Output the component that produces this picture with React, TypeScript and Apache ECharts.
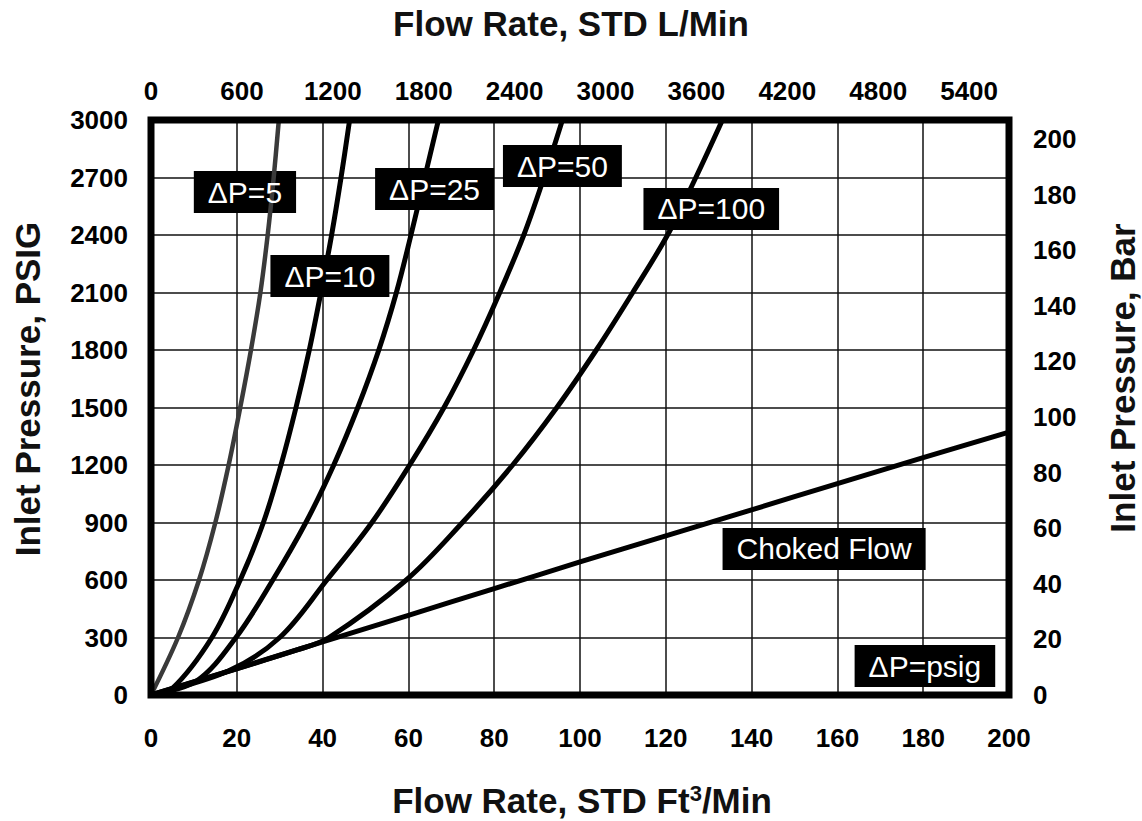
import React, { useEffect, useRef } from "react";
import * as echarts from "echarts";

// Inlet pressure levels (PSIG) used for the curve readings
const dp5P = [0, 300, 600, 900, 1200, 1500, 1800, 2100, 2400, 2700, 3000];
const dp5Q = [0, 6.3, 11.2, 15.0, 18.1, 20.8, 23.3, 25.5, 27.2, 28.6, 29.8];

const dp10P = [0, 35, 300, 600, 900, 1200, 1500, 1800, 2100, 2400, 2700, 3000];
const dp10Q = [0, 5, 14.2, 20.8, 26.2, 30.3, 33.8, 36.9, 39.6, 42.1, 44.3, 46.3];

const dp25P = [0, 73, 300, 600, 900, 1200, 1500, 1800, 2100, 2400, 2700, 3000];
const dp25Q = [0, 10.6, 19.8, 28.4, 36.1, 42.6, 48.2, 53.1, 57.2, 60.6, 63.8, 67.0];

const dp50P = [0, 125, 300, 600, 900, 1200, 1500, 1800, 2100, 2400, 2700, 3000];
const dp50Q = [0, 18, 30, 41, 51.5, 60.3, 68.3, 75.2, 81.3, 86.9, 91.6, 95.9];

const dp100P = [0, 235, 300, 600, 900, 1200, 1500, 1800, 2100, 2400, 2700, 3000];
const dp100Q = [0, 34, 41.5, 59.5, 72.6, 84.3, 94.6, 103.8, 112.3, 120.4, 127.0, 133.2];

const chokedQ = [0, 20, 40, 60, 80, 100, 120, 140, 160, 180, 200];
const chokedP = [0, 138, 277, 416, 555, 694, 830, 966, 1103, 1238, 1372];

// Curve annotations
const labelTexts = ["ΔP=5", "ΔP=10", "ΔP=25", "ΔP=50", "ΔP=100", "Choked Flow", "ΔP=psig"];
const labelQ = [21.9, 41.7, 66.1, 95.9, 130.6, 156.9, 180.4];
const labelP = [2624, 2186, 2640, 2760, 2536, 762, 151];

// Axis ranges
const ftMax = 200;
const psiMax = 3000;
const lpmPerFt3 = 28.3168;
const psiPerBar = 14.5038;

const FONT = '"Liberation Sans", Arial, Helvetica, sans-serif';

function zip(q: number[], p: number[]) {
  return q.map((v, i) => [v, p[i]]);
}

export default function App() {
  const ref = useRef<HTMLDivElement>(null);

  useEffect(() => {
    document.body.style.margin = "0";
    const chart = echarts.init(ref.current!, null, { renderer: "svg" });

    const tickLabel = {
      fontSize: 26,
      fontWeight: "bold" as const,
      color: "#000",
      fontFamily: FONT,
    };
    const gridLine = { show: true, lineStyle: { color: "#111", width: 1.5 } };

    const lineSeries = (name: string, q: number[], p: number[], color: string, width: number) => ({
      type: "line",
      name,
      data: zip(q, p),
      xAxisIndex: 0,
      yAxisIndex: 0,
      showSymbol: false,
      symbol: "none",
      smooth: 0.35,
      z: 3,
      silent: true,
      lineStyle: { color, width, cap: "round", join: "round" },
    });

    const labelSeries = (z: number, textColor: string, bg: string) => ({
      type: "scatter",
      xAxisIndex: 0,
      yAxisIndex: 0,
      z,
      silent: true,
      symbolSize: 0.1,
      itemStyle: { color: "rgba(0,0,0,0)", opacity: 1 },
      data: labelTexts.map((t, i) => ({ name: t, value: [labelQ[i], labelP[i]] })),
      label: {
        show: true,
        position: "inside",
        formatter: "{b}",
        color: textColor,
        backgroundColor: bg,
        opacity: 1,
        fontSize: 30,
        lineHeight: 32,
        fontFamily: FONT,
        padding: [5, 14, 5, 14],
      },
    });

    const titleStyle = {
      fontSize: 35,
      fontWeight: "bold",
      fontFamily: FONT,
      fill: "#111",
      align: "center",
      verticalAlign: "middle",
    };

    const option: any = {
      animation: false,
      grid: {
        left: 151,
        right: 133,
        top: 120,
        bottom: 126,
        show: true,
        borderColor: "#000",
        borderWidth: 7,
        backgroundColor: "transparent",
        z: 10,
      },
      xAxis: [
        {
          type: "value",
          position: "bottom",
          min: 0,
          max: ftMax,
          interval: 20,
          axisLine: { show: false },
          axisTick: { show: false },
          splitLine: gridLine,
          axisLabel: { ...tickLabel, margin: 30, formatter: (v: number) => String(v) },
        },
        {
          type: "value",
          position: "top",
          min: 0,
          max: ftMax * lpmPerFt3,
          interval: 600,
          axisLine: { show: false },
          axisTick: { show: false },
          splitLine: { show: false },
          axisLabel: {
            ...tickLabel,
            margin: 16,
            formatter: (v: number) => (Math.abs(v % 600) < 1e-6 ? String(v) : ""),
          },
        },
      ],
      yAxis: [
        {
          type: "value",
          position: "left",
          min: 0,
          max: psiMax,
          interval: 300,
          axisLine: { show: false },
          axisTick: { show: false },
          splitLine: gridLine,
          axisLabel: {
            ...tickLabel,
            margin: 23,
            padding: [10, 0, 0, 0],
            formatter: (v: number) => String(v),
          },
        },
        {
          type: "value",
          position: "right",
          min: 0,
          max: psiMax / psiPerBar,
          interval: 20,
          axisLine: { show: false },
          axisTick: { show: false },
          splitLine: { show: false },
          axisLabel: {
            ...tickLabel,
            margin: 24,
            formatter: (v: number) => (Math.abs(v % 20) < 1e-6 ? String(v) : ""),
          },
        },
      ],
      series: [
        labelSeries(2, "rgba(0,0,0,0)", "#000"),
        lineSeries("ΔP=5", dp5Q, dp5P, "#3a3a3a", 4.5),
        lineSeries("ΔP=10", dp10Q, dp10P, "#000", 5),
        lineSeries("ΔP=25", dp25Q, dp25P, "#000", 5),
        lineSeries("ΔP=50", dp50Q, dp50P, "#000", 5),
        lineSeries("ΔP=100", dp100Q, dp100P, "#000", 5),
        lineSeries("Choked Flow", chokedQ, chokedP, "#000", 5),
        labelSeries(4, "#fff", "transparent"),
      ],
      graphic: [
        {
          type: "text",
          x: 571,
          y: 23,
          style: { ...titleStyle, text: "Flow Rate, STD L/Min" },
        },
        {
          type: "text",
          x: 582,
          y: 800,
          style: {
            ...titleStyle,
            text: "{a|Flow Rate, STD Ft}{s|3}{a|/Min}",
            rich: {
              a: { fontSize: 35, fontWeight: "bold", fontFamily: FONT, fill: "#111", lineHeight: 36, verticalAlign: "bottom" },
              s: { fontSize: 22, fontWeight: "bold", fontFamily: FONT, fill: "#111", lineHeight: 36, verticalAlign: "top" },
            },
          },
        },
        {
          type: "text",
          x: 27,
          y: 389,
          rotation: Math.PI / 2,
          style: { ...titleStyle, text: "Inlet Pressure, PSIG" },
        },
        {
          type: "text",
          x: 1122,
          y: 378,
          rotation: Math.PI / 2,
          style: { ...titleStyle, text: "Inlet Pressure, Bar" },
        },
      ],
    };

    chart.setOption(option);
    return () => chart.dispose();
  }, []);

  return <div ref={ref} style={{ width: 1142, height: 821 }} />;
}
